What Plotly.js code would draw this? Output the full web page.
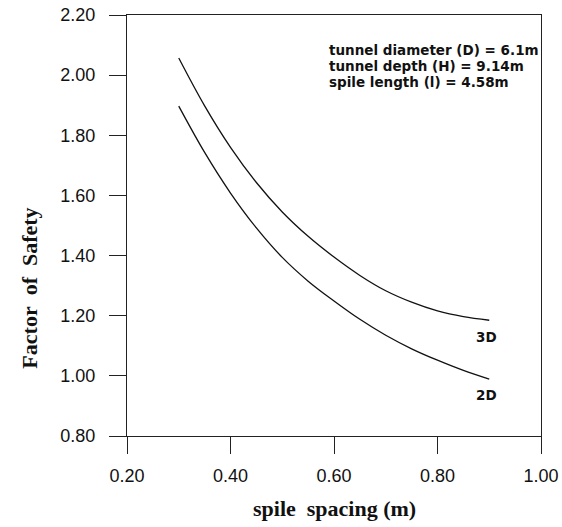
<!DOCTYPE html>
<html>
<head>
<meta charset="utf-8">
<script src="https://cdn.plot.ly/plotly-3.0.1.min.js"></script>
<style>html,body{margin:0;padding:0;background:#fff;}#chart{width:562px;height:527px;}</style>
</head>
<body>
<div id="chart"></div>
<script>
const spacing = [0.30, 0.35, 0.40, 0.45, 0.50, 0.55, 0.60, 0.65, 0.70, 0.75, 0.80, 0.85, 0.90];
const fs3D = [2.057, 1.898, 1.760, 1.643, 1.545, 1.464, 1.395, 1.334, 1.283, 1.245, 1.216, 1.197, 1.185];
const fs2D = [1.897, 1.743, 1.608, 1.492, 1.394, 1.315, 1.249, 1.188, 1.135, 1.090, 1.052, 1.018, 0.989];
const xTicks = [0.20, 0.40, 0.60, 0.80, 1.00];
const yTicks = [0.80, 1.00, 1.20, 1.40, 1.60, 1.80, 2.00, 2.20];
const infoLines = ["tunnel diameter (D) = 6.1m", "tunnel depth (H) = 9.14m", "spile length (l) = 4.58m"];

const line = {color: '#111', width: 1.3, shape: 'spline', smoothing: 1};
const traces = [
  {x: spacing, y: fs3D, mode: 'lines', line: line, name: '3D', hoverinfo: 'skip'},
  {x: spacing, y: fs2D, mode: 'lines', line: line, name: '2D', hoverinfo: 'skip'}
];

const tickFont = {family: 'Arial, "Liberation Sans", sans-serif', size: 18, color: '#111'};
const titleFont = {family: '"Times New Roman", "Liberation Serif", serif', size: 22, color: '#111'};
const noteFont = {family: '"DejaVu Sans", sans-serif', size: 13.5, color: '#111'};

const annotations = [
  {xref: 'paper', yref: 'paper', x: 0.5, y: 0, yshift: -72, xanchor: 'center', yanchor: 'middle',
   text: '<b>spile\u00a0 spacing (m)</b>', showarrow: false, font: titleFont},
  {xref: 'paper', yref: 'paper', x: 0, xshift: -97, y: 0.35, xanchor: 'center', yanchor: 'middle',
   text: '<b>Factor\u00a0 of\u00a0 Safety</b>', textangle: -90, showarrow: false, font: titleFont},
  {xref: 'x', yref: 'y', x: spacing[spacing.length-1], y: fs3D[fs3D.length-1], yshift: -17, xshift: -3,
   xanchor: 'center', yanchor: 'middle', text: '<b>3D</b>', showarrow: false, font: noteFont},
  {xref: 'x', yref: 'y', x: spacing[spacing.length-1], y: fs2D[fs2D.length-1], yshift: -16, xshift: -3,
   xanchor: 'center', yanchor: 'middle', text: '<b>2D</b>', showarrow: false, font: noteFont}
];
infoLines.forEach((t, i) => {
  annotations.push({xref: 'paper', yref: 'paper', x: 0.484, y: 1, yshift: -35 - 16 * i,
    xanchor: 'left', yanchor: 'middle', text: '<b>' + t + '</b>', showarrow: false, font: noteFont});
});

const layout = {
  width: 562, height: 527,
  margin: {l: 127, r: 21, t: 15, b: 91},
  paper_bgcolor: '#fff', plot_bgcolor: '#fff',
  showlegend: false,
  xaxis: {
    range: [0.2, 1.0], tickvals: xTicks, ticktext: xTicks.map(v => v.toFixed(2)),
    ticks: 'outside', ticklen: 17, tickwidth: 1, tickcolor: '#222',
    showline: true, linecolor: '#222', linewidth: 1, mirror: true,
    showgrid: false, zeroline: false, tickfont: tickFont, ticklabelstandoff: 6
  },
  yaxis: {
    range: [0.8, 2.2], tickvals: yTicks, ticktext: yTicks.map(v => v.toFixed(2)),
    ticks: 'outside', ticklen: 17, tickwidth: 1, tickcolor: '#222',
    showline: true, linecolor: '#222', linewidth: 1, mirror: true,
    showgrid: false, zeroline: false, tickfont: tickFont, ticklabelstandoff: 10
  },
  annotations: annotations
};

Plotly.newPlot('chart', traces, layout, {staticPlot: true, displayModeBar: false});
</script>
</body>
</html>
